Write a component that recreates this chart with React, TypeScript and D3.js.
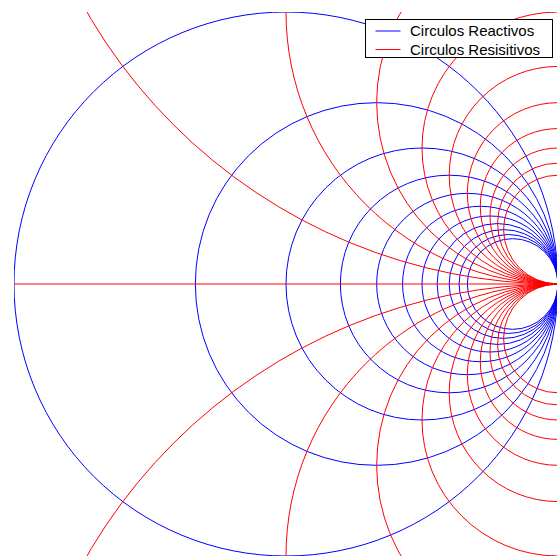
import * as d3 from 'd3';

// valores de resistencia normalizada (circulos azules) y reactancia (circulos rojos)
const resistencias = [0, 0.5, 1, 1.5, 2, 2.5, 3, 3.5, 4, 4.5, 5];
const reactancias = [0.5, 1, 1.5, 2, 2.5, 3, 3.5, 4, 4.5, 5];
const leyenda = ['Circulos Reactivos', 'Circulos Resisitivos'];
const colores = ['#0000ff', '#ff0000'];

const width = 557;
const height = 556;

const App = (): JSX.Element => {
  const x = d3.scaleLinear([-1, 1], [14, 558]);
  const y = d3.scaleLinear([-1, 1], [556, 12]);
  const kx = x(1) - x(0);
  const ky = y(0) - y(1);

  const azules = resistencias.map((r) => ({ c: r / (1 + r), rad: 1 / (1 + r) }));
  const rojos = reactancias.flatMap((v) => [1 / v, -1 / v]).map((c) => ({ c, rad: Math.abs(c) }));

  return (
    <svg
      width={width}
      height={height}
      style={{ position: 'absolute', left: 0, top: 0, background: '#fff' }}
      fontFamily="'Liberation Sans', Arial, sans-serif"
    >
      <defs>
        <clipPath id="ejes">
          <rect x={x(-1)} y={y(1)} width={x(1) - x(-1)} height={y(-1) - y(1)} />
        </clipPath>
      </defs>
      <g clipPath="url(#ejes)" fill="none" strokeWidth={1}>
        {azules.map((d, i) => (
          <ellipse key={'a' + i} cx={x(d.c)} cy={y(0)} rx={d.rad * kx} ry={d.rad * ky} stroke={colores[0]} />
        ))}
        <line x1={x(-1)} x2={x(1)} y1={y(0)} y2={y(0)} stroke={colores[1]} />
        {rojos.map((d, i) => (
          <ellipse key={'r' + i} cx={x(1)} cy={y(d.c)} rx={d.rad * kx} ry={d.rad * ky} stroke={colores[1]} />
        ))}
      </g>
      <g transform="translate(365.5,19.5)">
        <rect width={187} height={38} fill="#fff" stroke="#000" />
        {leyenda.map((t, i) => (
          <g key={t} transform={`translate(0,${11.5 + i * 18.5})`}>
            <line x1={10} x2={35} stroke={colores[i]} />
            <text x={44.5} y={5} fontSize={15} fill="#000">
              {t}
            </text>
          </g>
        ))}
      </g>
    </svg>
  );
};

export default App;
